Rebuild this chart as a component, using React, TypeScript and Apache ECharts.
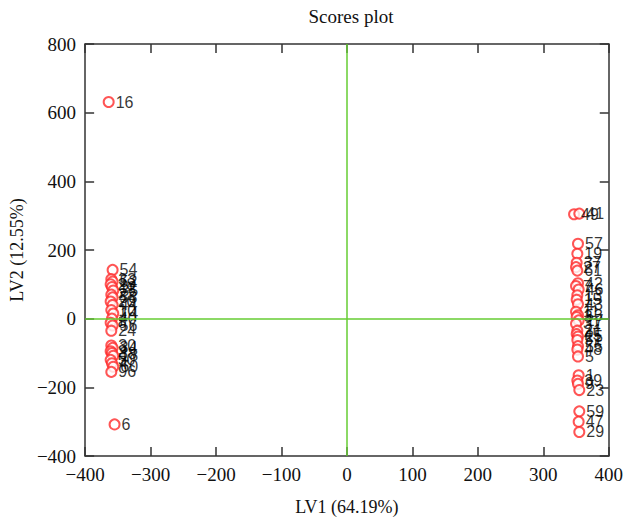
import React, { useEffect, useRef } from "react";
import * as echarts from "echarts";

const sampleLabels = [
  "16", "6", "54", "33", "52", "28", "12", "35", "22", "58", "20", "44", "10", "14", "40", "8", "56", "24",
  "30", "34", "2", "38", "18", "50", "4", "60", "96",
  "49", "41", "57", "19", "37", "27", "61", "42", "7", "46", "13", "15", "43", "11", "53", "3", "17", "31",
  "21", "45", "25", "51", "55", "48", "5", "1", "39", "9", "23", "59", "47", "29",
];
const lv1Scores = [
  -364, -355, -358, -360, -358, -361, -359, -357, -360, -358, -361, -358, -360, -357, -359, -361, -358, -360,
  -360, -358, -361, -359, -357, -361, -359, -357, -360,
  347, 355, 353, 352, 351, 350, 352, 353, 350, 354, 352, 351, 353, 350, 353, 351, 354, 350,
  352, 351, 353, 352, 353, 352, 353, 354, 352, 353, 355, 355, 354, 355,
];
const lv2Scores = [
  631, -308, 142, 115, 108, 100, 92, 82, 70, 62, 50, 40, 25, 15, 0, -12, -20, -35,
  -78, -85, -95, -100, -108, -120, -130, -140, -155,
  304, 306, 218, 189, 163, 150, 140, 103, 95, 85, 68, 55, 42, 20, 10, 5, -5, -15,
  -35, -45, -52, -62, -80, -90, -110, -165, -180, -190, -208, -270, -300, -330,
];
const xTicks = { min: -400, max: 400, interval: 100 };
const yTicks = { min: -400, max: 800, interval: 200 };

const serif = "Liberation Serif";
const fmt = (v: number) => String(v).replace("-", "\u2212");

export default function App() {
  const ref = useRef<HTMLDivElement>(null);
  useEffect(() => {
    if (!ref.current) return;
    const chart = echarts.init(ref.current, null, { renderer: "svg" });
    const data = sampleLabels.map((l, i) => ({ name: l, value: [lv1Scores[i], lv2Scores[i]] }));
    const axisLine = { show: true, onZero: false, lineStyle: { color: "#333", width: 1.5 } };
    const tick = { show: true, inside: true, length: 9, lineStyle: { color: "#333", width: 1.5 } };
    chart.setOption({
      animation: false,
      title: {
        text: "Scores plot",
        left: 346,
        top: 2,
        textAlign: "center",
        textStyle: { fontFamily: serif, fontSize: 19, fontWeight: "normal", color: "#111" },
      },
      grid: { left: 81, right: 15, top: 44, bottom: 59 },
      xAxis: [
        {
          type: "value",
          ...xTicks,
          position: "bottom",
          axisLine,
          axisTick: tick,
          splitLine: { show: false },
          axisLabel: { formatter: fmt, fontFamily: serif, fontSize: 19, color: "#111", margin: 9 },
          name: "LV1 (64.19%)",
          nameLocation: "middle",
          nameGap: 42,
          nameTextStyle: { fontFamily: serif, fontSize: 18, color: "#111" },
        },
        {
          type: "value",
          ...xTicks,
          position: "top",
          axisLine,
          axisTick: tick,
          splitLine: { show: false },
          axisLabel: { show: false },
        },
      ],
      yAxis: [
        {
          type: "value",
          ...yTicks,
          position: "left",
          axisLine,
          axisTick: tick,
          splitLine: { show: false },
          axisLabel: { formatter: fmt, fontFamily: serif, fontSize: 19, color: "#111", margin: 9 },
          name: "LV2 (12.55%)",
          nameLocation: "middle",
          nameGap: 53,
          nameTextStyle: { fontFamily: serif, fontSize: 18, color: "#111" },
        },
        {
          type: "value",
          ...yTicks,
          position: "right",
          axisLine,
          axisTick: tick,
          splitLine: { show: false },
          axisLabel: { show: false },
        },
      ],
      series: [
        {
          type: "scatter",
          data,
          symbol: "emptyCircle",
          symbolSize: 10,
          itemStyle: { color: "#ff2a2a", borderWidth: 1 },
          label: {
            show: true,
            position: "right",
            distance: 1,
            formatter: "{b}",
            fontFamily: "Liberation Sans",
            fontSize: 16,
            color: "#000",
          },
          labelLayout: { hideOverlap: false },
          markLine: {
            silent: true,
            symbol: "none",
            label: { show: false },
            lineStyle: { color: "#66cc33", type: "solid", width: 1.5 },
            data: [{ xAxis: 0 }, { yAxis: 0 }],
          },
          z: 3,
        },
      ],
    });
    return () => chart.dispose();
  }, []);
  return (
    <div
      ref={ref}
      style={{ position: "fixed", left: 0, top: 0, width: 626, height: 521, background: "#fff" }}
    />
  );
}
